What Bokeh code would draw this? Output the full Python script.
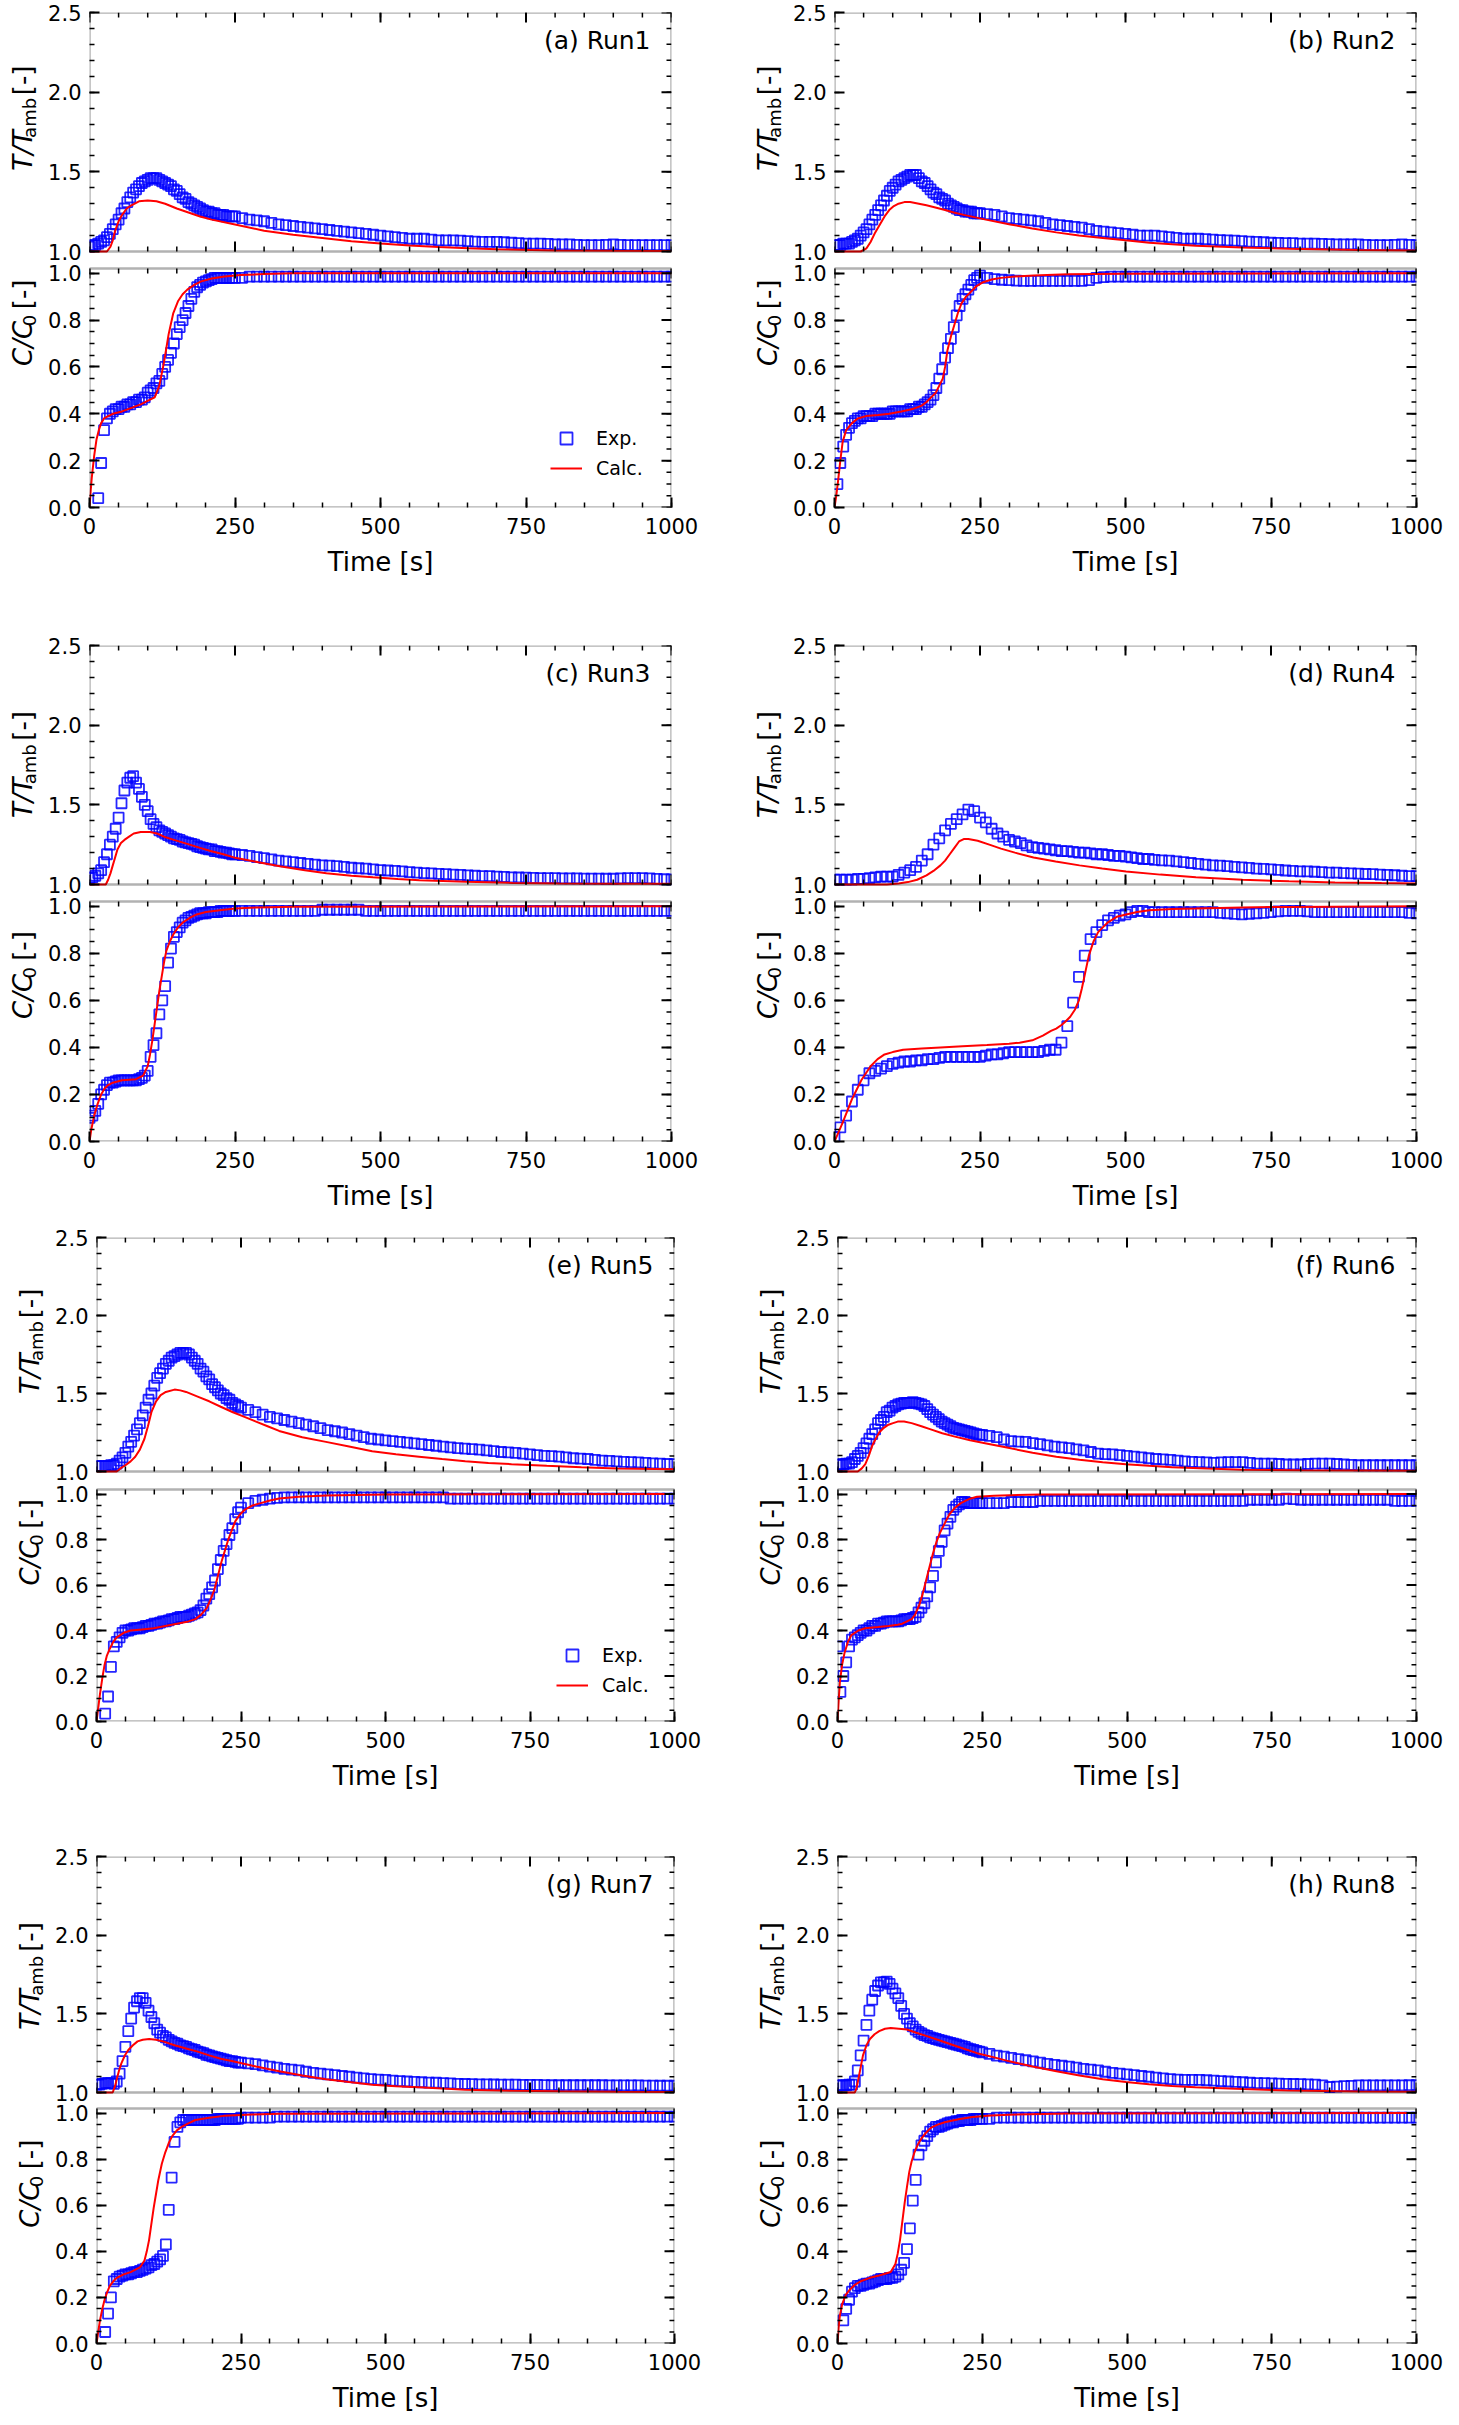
import numpy as np
from bokeh.plotting import figure
from bokeh.layouts import column, row
from bokeh.models import (Label, Legend, LegendItem, Range1d, FixedTicker,
                          BoxAnnotation)
from bokeh.embed import file_html
from bokeh.resources import INLINE

nan = float("nan")

# ---------------- data ----------------
# sampling times of the experimental series (s)
t_exp = list(range(0, 250, 5)) + [250 + 12.5 * i for i in range(61)]
t_exp_4 = list(range(0, 560, 10)) + [562.5 + 12.5 * i for i in range(36)]

# ---- Run 1 ----
T_exp_1 = [1.03,1.04,1.04,1.05,1.06,1.07,1.09,1.11,1.14,1.17,
           1.20,1.24,1.27,1.31,1.34,1.37,1.39,1.41,1.43,1.44,
           1.45,1.46,1.46,1.46,1.45,1.44,1.43,1.42,1.41,1.39,
           1.38,1.36,1.34,1.33,1.31,1.30,1.29,1.28,1.27,1.26,
           1.25,1.25,1.24,1.24,1.23,1.23,1.23,1.22,1.22,1.22,
           1.22,1.21,1.20,1.195,1.19,1.18,1.17,1.165,1.16,1.155,
           1.15,1.145,1.14,1.135,1.13,1.125,1.12,1.115,1.11,1.105,
           1.10,1.095,1.09,1.085,1.08,1.08,1.08,1.075,1.07,1.07,
           1.07,1.068,1.065,1.062,1.06,1.06,1.06,1.058,1.055,1.052,
           1.05,1.05,1.05,1.048,1.045,1.045,1.045,1.042,1.04,1.04,
           1.04,1.042,1.045,1.042,1.04,1.04,1.04,1.04,1.04,1.04,
           1.04]
C_exp_1 = [nan,nan,nan,0.04,0.19,0.33,0.38,0.40,0.41,0.42,
           0.42,0.43,0.43,0.44,0.44,0.45,0.45,0.46,0.46,0.47,
           0.49,0.50,0.51,0.53,0.54,0.57,0.60,0.63,0.66,0.70,
           0.74,0.77,0.80,0.83,0.86,0.89,0.92,0.94,0.95,0.96,
           0.965,0.97,0.975,0.98,0.98,0.98,0.98,0.98,0.98,0.98,
           0.98,0.98,0.985,0.985,0.985,0.985,0.985,0.985,0.985,0.985,
           0.985,0.985,0.985,0.985,0.985,0.985,0.985,0.985,0.985,0.985,
           0.985,0.985,0.985,0.985,0.985,0.985,0.985,0.985,0.985,0.985,
           0.985,0.985,0.985,0.985,0.985,0.985,0.985,0.985,0.985,0.985,
           0.985,0.985,0.985,0.985,0.985,0.985,0.985,0.985,0.985,0.985,
           0.985,0.985,0.985,0.985,0.985,0.985,0.985,0.985,0.985,0.985,
           0.985]
tT_calc_1 = [0,30,36,40,44,50,56,64,72,85,100,115,130,150,170,190,210,250,300,350,400,450,500,550,600,650,700,800,900,1000]
T_calc_1 = [1.0,1.0,1.03,1.07,1.13,1.19,1.23,1.27,1.29,1.315,1.32,1.315,1.30,1.27,1.245,1.22,1.20,1.17,1.13,1.105,1.085,1.065,1.05,1.038,1.028,1.02,1.014,1.007,1.004,1.003]
tC_calc_1 = [0,2,4,8,12,16,20,25,32,40,56,72,88,104,112,120,128,136,144,152,160,168,180,192,210,232,260,300,350,1000]
C_calc_1 = [0,0.07,0.13,0.22,0.29,0.33,0.36,0.38,0.39,0.40,0.41,0.425,0.44,0.46,0.47,0.52,0.62,0.74,0.83,0.88,0.91,0.93,0.95,0.965,0.977,0.986,0.992,0.996,1.0,1.0]

# ---- Run 2 ----
T_exp_2 = [1.04,1.04,1.04,1.05,1.05,1.05,1.06,1.07,1.08,1.10,
           1.12,1.14,1.17,1.20,1.23,1.26,1.29,1.32,1.35,1.38,
           1.40,1.42,1.44,1.45,1.46,1.47,1.48,1.48,1.48,1.46,
           1.44,1.43,1.41,1.39,1.37,1.36,1.34,1.33,1.32,1.30,
           1.29,1.28,1.27,1.26,1.26,1.25,1.25,1.25,1.24,1.24,
           1.24,1.235,1.23,1.22,1.21,1.205,1.20,1.195,1.19,1.18,
           1.17,1.165,1.16,1.155,1.15,1.14,1.13,1.125,1.12,1.115,
           1.11,1.105,1.10,1.10,1.10,1.095,1.09,1.085,1.08,1.08,
           1.08,1.078,1.075,1.072,1.07,1.068,1.065,1.062,1.06,1.058,
           1.055,1.054,1.053,1.052,1.05,1.05,1.05,1.048,1.046,1.045,
           1.045,1.045,1.045,1.042,1.04,1.04,1.04,1.042,1.045,1.042,
           1.04]
C_exp_2 = [nan,0.10,0.19,0.26,0.31,0.34,0.36,0.37,0.38,0.38,
           0.39,0.39,0.39,0.39,0.40,0.40,0.40,0.40,0.40,0.40,
           0.41,0.41,0.41,0.41,0.41,0.41,0.42,0.42,0.42,0.43,
           0.43,0.44,0.45,0.46,0.48,0.51,0.55,0.59,0.64,0.68,
           0.72,0.77,0.82,0.86,0.89,0.91,0.93,0.95,0.97,0.98,
           0.99,0.98,0.975,0.972,0.97,0.968,0.967,0.967,0.967,0.967,
           0.967,0.967,0.967,0.967,0.967,0.97,0.98,0.983,0.985,0.985,
           0.985,0.985,0.985,0.985,0.985,0.985,0.985,0.985,0.985,0.985,
           0.985,0.985,0.985,0.985,0.985,0.985,0.985,0.985,0.985,0.985,
           0.985,0.985,0.985,0.985,0.985,0.985,0.985,0.985,0.985,0.985,
           0.985,0.985,0.985,0.985,0.985,0.985,0.985,0.985,0.985,0.985,
           0.985]
tT_calc_2 = [0,45,55,62,70,78,86,94,102,110,120,130,145,158,175,190,205,222,260,302,340,381,420,461,500,541,580,621,700,781,900,1000]
T_calc_2 = [1.0,1.0,1.02,1.06,1.12,1.17,1.22,1.26,1.285,1.30,1.31,1.31,1.30,1.29,1.275,1.26,1.245,1.23,1.20,1.17,1.145,1.12,1.10,1.085,1.07,1.055,1.045,1.036,1.025,1.017,1.01,1.007]
tC_calc_2 = [0,3,6,10,14,20,30,40,54,75,94,115,134,150,158,166,174,180,186,190,194,200,206,212,218,226,234,244,254,270,286,310,342,400,500,1000]
C_calc_2 = [0,0.05,0.11,0.20,0.28,0.33,0.36,0.38,0.39,0.395,0.40,0.41,0.42,0.435,0.45,0.47,0.49,0.52,0.55,0.60,0.67,0.73,0.78,0.83,0.87,0.90,0.92,0.945,0.96,0.973,0.98,0.986,0.99,0.995,0.998,1.0]

# ---- Run 3 ----
T_exp_3 = [1.04,1.045,1.055,1.07,1.09,1.14,1.19,1.25,1.30,1.35,
           1.42,1.51,1.59,1.64,1.67,1.68,1.64,1.60,1.55,1.50,
           1.46,1.41,1.38,1.36,1.34,1.33,1.32,1.31,1.30,1.29,
           1.285,1.28,1.27,1.265,1.26,1.255,1.25,1.24,1.235,1.23,
           1.225,1.22,1.22,1.21,1.21,1.205,1.20,1.20,1.195,1.19,
           1.19,1.185,1.18,1.172,1.165,1.158,1.15,1.145,1.14,1.135,
           1.13,1.125,1.12,1.118,1.115,1.11,1.105,1.102,1.10,1.095,
           1.09,1.088,1.085,1.082,1.078,1.075,1.072,1.07,1.067,1.065,
           1.062,1.06,1.057,1.055,1.053,1.052,1.05,1.048,1.045,1.044,
           1.043,1.042,1.04,1.04,1.04,1.039,1.038,1.038,1.037,1.037,
           1.037,1.036,1.036,1.038,1.04,1.04,1.04,1.038,1.035,1.033,
           1.032]
C_exp_3 = [0.10,0.11,0.13,0.16,0.20,0.22,0.24,0.25,0.25,0.255,
           0.26,0.26,0.26,0.26,0.26,0.26,0.26,0.265,0.27,0.28,
           0.30,0.36,0.41,0.46,0.54,0.60,0.66,0.76,0.82,0.87,
           0.89,0.91,0.93,0.94,0.95,0.955,0.96,0.965,0.97,0.97,
           0.97,0.975,0.975,0.975,0.975,0.98,0.98,0.98,0.98,0.98,
           0.98,0.98,0.98,0.98,0.98,0.98,0.98,0.98,0.98,0.98,
           0.98,0.98,0.985,0.985,0.985,0.985,0.985,0.985,0.98,0.98,
           0.98,0.98,0.98,0.98,0.98,0.98,0.98,0.98,0.98,0.98,
           0.98,0.98,0.98,0.98,0.98,0.98,0.98,0.98,0.98,0.98,
           0.98,0.98,0.98,0.98,0.98,0.98,0.98,0.98,0.98,0.98,
           0.98,0.98,0.98,0.98,0.98,0.98,0.98,0.98,0.98,0.98,
           0.98]
tT_calc_3 = [0,28,32,36,40,44,48,54,60,68,76,88,104,116,128,145,168,190,208,230,248,290,327,370,407,450,487,530,567,647,727,807,900,1000]
T_calc_3 = [1.0,1.0,1.03,1.07,1.12,1.17,1.22,1.26,1.28,1.30,1.32,1.33,1.33,1.32,1.30,1.28,1.255,1.23,1.21,1.19,1.17,1.14,1.115,1.09,1.07,1.055,1.045,1.035,1.027,1.017,1.01,1.007,1.005,1.004]
tC_calc_3 = [0,3,8,14,20,26,32,40,56,80,92,100,104,108,112,116,120,124,128,132,138,144,152,160,172,184,200,224,250,288,350,1000]
C_calc_3 = [0,0.05,0.11,0.16,0.20,0.225,0.24,0.25,0.26,0.265,0.28,0.32,0.37,0.43,0.50,0.57,0.64,0.70,0.76,0.81,0.85,0.88,0.91,0.93,0.95,0.965,0.975,0.983,0.99,0.995,0.998,1.0]

# ---- Run 4 ----
T_exp_4 = [1.03,1.03,1.03,1.03,1.035,1.035,1.04,1.045,1.05,1.05,
           1.05,1.06,1.075,1.09,1.11,1.15,1.19,1.25,1.29,1.34,
           1.38,1.41,1.44,1.47,1.46,1.42,1.39,1.35,1.32,1.30,
           1.28,1.27,1.26,1.245,1.235,1.23,1.225,1.22,1.215,1.21,
           1.21,1.205,1.20,1.20,1.195,1.19,1.19,1.185,1.18,1.18,
           1.175,1.17,1.165,1.16,1.16,1.155,
           1.152,1.15,1.145,1.14,1.135,1.13,1.125,1.12,1.118,1.115,
           1.11,1.107,1.104,1.10,1.098,1.095,1.092,1.088,1.085,1.083,
           1.082,1.08,1.078,1.075,1.074,1.072,1.07,1.068,1.066,1.065,
           1.062,1.06,1.058,1.055,1.053,1.052]
C_exp_4 = [0.02,0.06,0.11,0.17,0.22,0.26,0.29,0.30,0.31,0.32,
           0.33,0.335,0.34,0.34,0.345,0.345,0.35,0.35,0.355,0.36,
           0.36,0.36,0.36,0.36,0.36,0.36,0.365,0.37,0.37,0.375,
           0.38,0.38,0.38,0.38,0.38,0.38,0.385,0.39,0.39,0.42,
           0.49,0.59,0.70,0.79,0.86,0.89,0.92,0.94,0.95,0.96,
           0.965,0.975,0.98,0.98,0.975,0.975,
           0.975,0.975,0.975,0.975,0.975,0.975,0.975,0.975,0.972,0.97,
           0.967,0.965,0.968,0.97,0.972,0.975,0.978,0.98,0.98,0.98,
           0.978,0.975,0.975,0.975,0.975,0.975,0.975,0.975,0.975,0.975,
           0.975,0.975,0.975,0.975,0.972,0.97]
tT_calc_4 = [0,90,110,126,142,158,170,182,190,198,206,214,222,230,246,266,286,310,342,380,421,460,501,560,621,701,781,860,940,1000]
T_calc_4 = [1.0,1.0,1.007,1.015,1.03,1.057,1.085,1.12,1.15,1.19,1.23,1.27,1.285,1.285,1.275,1.25,1.225,1.20,1.17,1.145,1.12,1.10,1.082,1.062,1.045,1.03,1.02,1.013,1.009,1.007]
tC_calc_4 = [0,7,14,22,30,38,46,54,62,74,86,100,118,150,182,220,262,300,318,340,358,372,381,390,397,405,413,420,425,431,437,445,453,461,469,485,501,520,541,580,621,700,781,1000]
C_calc_4 = [0,0.04,0.08,0.13,0.18,0.22,0.26,0.29,0.32,0.35,0.37,0.38,0.39,0.395,0.40,0.405,0.41,0.415,0.42,0.43,0.45,0.47,0.48,0.495,0.51,0.53,0.56,0.60,0.65,0.72,0.79,0.85,0.89,0.91,0.93,0.955,0.965,0.975,0.983,0.988,0.99,0.995,0.997,1.0]

# ---- Run 5 ----
T_exp_5 = [1.035,1.035,1.035,1.035,1.035,1.04,1.04,1.05,1.07,1.09,
           1.12,1.16,1.19,1.23,1.27,1.31,1.36,1.41,1.46,1.50,
           1.55,1.60,1.63,1.66,1.69,1.71,1.73,1.74,1.75,1.76,
           1.76,1.76,1.75,1.73,1.71,1.69,1.66,1.64,1.61,1.59,
           1.56,1.54,1.52,1.50,1.49,1.47,1.46,1.44,1.43,1.42,
           1.41,1.395,1.38,1.365,1.35,1.34,1.33,1.32,1.31,1.30,
           1.29,1.278,1.265,1.258,1.25,1.24,1.23,1.22,1.21,1.205,
           1.20,1.195,1.19,1.185,1.18,1.175,1.17,1.165,1.16,1.155,
           1.15,1.147,1.143,1.14,1.135,1.13,1.125,1.122,1.12,1.115,
           1.11,1.105,1.10,1.098,1.095,1.09,1.085,1.082,1.08,1.075,
           1.07,1.068,1.065,1.062,1.06,1.058,1.055,1.052,1.05,1.048,
           1.047]
C_exp_5 = [nan,nan,nan,0.035,0.11,0.24,0.33,0.35,0.37,0.39,
           0.40,0.40,0.405,0.41,0.41,0.41,0.415,0.42,0.42,0.425,
           0.43,0.43,0.435,0.44,0.44,0.445,0.45,0.45,0.455,0.46,
           0.46,0.46,0.465,0.47,0.475,0.48,0.49,0.51,0.54,0.56,
           0.59,0.62,0.67,0.71,0.75,0.78,0.82,0.85,0.89,0.92,
           0.94,0.96,0.97,0.975,0.98,0.983,0.985,0.985,0.985,0.985,
           0.985,0.985,0.985,0.985,0.985,0.985,0.985,0.985,0.985,0.985,
           0.985,0.985,0.985,0.985,0.985,0.985,0.985,0.985,0.985,0.98,
           0.98,0.98,0.98,0.98,0.98,0.98,0.98,0.98,0.98,0.98,
           0.98,0.98,0.98,0.98,0.98,0.98,0.98,0.98,0.98,0.98,
           0.98,0.98,0.98,0.98,0.98,0.98,0.98,0.98,0.98,0.98,
           0.98]
tT_calc_5 = [0,35,43,50,59,67,75,83,89,95,103,111,120,135,145,155,175,195,215,236,256,276,296,316,356,397,437,477,518,558,598,638,678,718,779,839,900,1000]
T_calc_5 = [1.0,1.0,1.024,1.04,1.065,1.095,1.14,1.21,1.29,1.38,1.45,1.49,1.51,1.525,1.52,1.51,1.48,1.45,1.415,1.38,1.35,1.32,1.29,1.26,1.22,1.19,1.16,1.13,1.11,1.095,1.08,1.066,1.055,1.047,1.037,1.028,1.02,1.014]
tC_calc_5 = [0,3,6,10,14,18,23,29,35,47,59,79,99,119,139,159,171,181,191,198,204,210,216,222,228,234,240,248,256,270,284,300,316,350,397,500,1000]
C_calc_5 = [0,0.06,0.12,0.19,0.25,0.29,0.32,0.35,0.37,0.39,0.40,0.405,0.41,0.42,0.43,0.44,0.45,0.47,0.50,0.54,0.58,0.64,0.70,0.75,0.80,0.84,0.88,0.91,0.93,0.95,0.96,0.972,0.98,0.988,0.994,0.998,1.0]

# ---- Run 6 ----
T_exp_6 = [1.045,1.045,1.045,1.05,1.05,1.06,1.08,1.10,1.12,1.15,
           1.18,1.21,1.24,1.27,1.31,1.33,1.35,1.38,1.39,1.41,
           1.42,1.43,1.435,1.44,1.44,1.44,1.445,1.44,1.435,1.43,
           1.42,1.40,1.38,1.365,1.35,1.335,1.32,1.31,1.30,1.29,
           1.28,1.275,1.27,1.265,1.26,1.255,1.25,1.245,1.24,1.235,
           1.235,1.228,1.22,1.205,1.195,1.192,1.19,1.182,1.175,1.168,
           1.16,1.155,1.15,1.142,1.135,1.125,1.115,1.112,1.11,1.105,
           1.10,1.095,1.09,1.085,1.08,1.078,1.075,1.07,1.065,1.062,
           1.06,1.058,1.055,1.058,1.06,1.06,1.06,1.055,1.05,1.05,
           1.05,1.048,1.045,1.045,1.045,1.048,1.05,1.05,1.05,1.048,
           1.045,1.042,1.04,1.04,1.04,1.04,1.04,1.04,1.04,1.04,
           1.04]
C_exp_6 = [0.33,0.13,0.20,0.26,0.33,0.36,0.37,0.38,0.39,0.40,
           0.40,0.41,0.42,0.42,0.43,0.43,0.435,0.44,0.44,0.44,
           0.44,0.44,0.445,0.45,0.45,0.45,0.455,0.46,0.48,0.50,
           0.52,0.55,0.59,0.64,0.70,0.75,0.79,0.84,0.87,0.90,
           0.93,0.945,0.955,0.965,0.965,0.96,0.96,0.96,0.96,0.96,
           0.96,0.96,0.96,0.96,0.965,0.965,0.965,0.965,0.97,0.97,
           0.97,0.97,0.97,0.97,0.97,0.97,0.97,0.97,0.97,0.97,
           0.97,0.97,0.97,0.97,0.97,0.97,0.97,0.97,0.97,0.97,
           0.97,0.97,0.97,0.97,0.97,0.97,0.97,0.975,0.975,0.975,
           0.975,0.975,0.98,0.978,0.975,0.975,0.975,0.975,0.975,0.975,
           0.975,0.975,0.975,0.975,0.975,0.975,0.975,0.97,0.97,0.97,
           0.97]
tT_calc_6 = [0,35,42,48,54,60,66,72,80,88,96,104,115,128,145,161,181,201,229,257,297,337,378,418,458,498,538,578,638,699,800,900,1000]
T_calc_6 = [1.0,1.0,1.02,1.047,1.10,1.165,1.21,1.25,1.28,1.30,1.31,1.32,1.32,1.31,1.29,1.27,1.245,1.225,1.20,1.18,1.15,1.12,1.095,1.076,1.06,1.047,1.037,1.028,1.019,1.012,1.008,1.006,1.005]
tC_calc_6 = [0,2,4,8,12,18,24,36,48,70,88,104,112,120,128,134,141,147,153,159,165,171,177,185,193,203,213,227,241,270,297,350,1000]
C_calc_6 = [0,0.09,0.17,0.25,0.30,0.35,0.38,0.40,0.41,0.415,0.42,0.425,0.43,0.44,0.45,0.47,0.51,0.56,0.62,0.68,0.74,0.79,0.83,0.87,0.91,0.94,0.96,0.978,0.988,0.993,0.995,0.998,1.0]

# ---- Run 7 ----
T_exp_7 = [1.05,1.05,1.055,1.06,1.06,1.06,1.055,1.07,1.12,1.20,
           1.29,1.39,1.47,1.54,1.58,1.60,1.60,1.57,1.52,1.48,
           1.44,1.40,1.38,1.36,1.35,1.335,1.325,1.315,1.31,1.30,
           1.295,1.29,1.28,1.275,1.27,1.26,1.255,1.25,1.24,1.236,
           1.23,1.225,1.22,1.215,1.21,1.205,1.20,1.20,1.195,1.19,
           1.19,1.185,1.18,1.172,1.165,1.158,1.15,1.145,1.14,1.132,
           1.125,1.12,1.115,1.11,1.105,1.10,1.095,1.09,1.085,1.082,
           1.08,1.076,1.072,1.07,1.068,1.065,1.063,1.062,1.06,1.058,
           1.055,1.054,1.053,1.052,1.052,1.051,1.05,1.05,1.05,1.049,
           1.048,1.048,1.047,1.046,1.046,1.046,1.046,1.046,1.046,1.046,
           1.046,1.045,1.045,1.045,1.045,1.045,1.044,1.044,1.043,1.043,
           1.043]
C_exp_7 = [nan,nan,nan,0.05,0.13,0.20,0.27,0.28,0.29,0.295,
           0.30,0.30,0.305,0.31,0.31,0.315,0.32,0.325,0.33,0.34,
           0.345,0.355,0.365,0.38,0.43,0.58,0.72,0.875,0.94,0.96,
           0.97,0.97,0.97,0.97,0.97,0.97,0.97,0.97,0.97,0.97,
           0.97,0.97,0.975,0.975,0.975,0.975,0.975,0.975,0.975,0.975,
           0.98,0.98,0.98,0.98,0.98,0.985,0.985,0.985,0.985,0.985,
           0.985,0.985,0.985,0.985,0.985,0.985,0.985,0.985,0.985,0.985,
           0.985,0.985,0.985,0.985,0.985,0.985,0.985,0.985,0.985,0.985,
           0.985,0.985,0.985,0.985,0.985,0.985,0.985,0.985,0.985,0.985,
           0.985,0.985,0.985,0.985,0.985,0.985,0.985,0.985,0.985,0.985,
           0.985,0.985,0.985,0.985,0.985,0.985,0.985,0.985,0.985,0.985,
           0.985]
tT_calc_7 = [0,28,32,35,39,43,49,55,63,71,80,91,103,115,135,155,175,195,215,236,276,316,356,397,437,477,518,558,598,638,718,799,900,1000]
T_calc_7 = [1.0,1.0,1.04,1.084,1.14,1.185,1.235,1.27,1.30,1.325,1.335,1.34,1.335,1.325,1.30,1.28,1.26,1.236,1.215,1.198,1.165,1.135,1.108,1.084,1.066,1.05,1.04,1.033,1.025,1.018,1.011,1.008,1.005,1.003]
tC_calc_7 = [0,3,6,10,14,18,23,29,35,47,59,75,83,87,91,95,99,103,107,113,119,125,131,139,147,159,171,195,220,270,316,1000]
C_calc_7 = [0,0.05,0.10,0.15,0.19,0.22,0.25,0.27,0.285,0.30,0.31,0.33,0.36,0.40,0.45,0.52,0.59,0.65,0.71,0.78,0.83,0.87,0.90,0.925,0.94,0.955,0.97,0.98,0.988,0.994,0.997,1.0]

# ---- Run 8 ----
T_exp_8 = [1.045,1.045,1.045,1.045,1.05,1.05,1.07,1.14,1.236,1.33,
           1.43,1.52,1.59,1.645,1.68,1.70,1.70,1.705,1.69,1.66,
           1.63,1.60,1.55,1.50,1.47,1.44,1.42,1.40,1.385,1.375,
           1.365,1.36,1.35,1.345,1.34,1.335,1.33,1.325,1.32,1.315,
           1.31,1.305,1.30,1.295,1.29,1.28,1.275,1.27,1.265,1.26,
           1.255,1.245,1.235,1.228,1.22,1.212,1.205,1.198,1.19,1.182,
           1.175,1.17,1.165,1.158,1.15,1.145,1.14,1.132,1.125,1.12,
           1.115,1.11,1.105,1.10,1.095,1.09,1.085,1.082,1.08,1.08,
           1.08,1.078,1.075,1.072,1.07,1.068,1.065,1.062,1.06,1.059,
           1.058,1.056,1.055,1.054,1.053,1.052,1.05,1.045,1.035,1.037,
           1.04,1.042,1.045,1.045,1.045,1.045,1.045,1.045,1.045,1.046,
           1.046]
C_exp_8 = [nan,nan,0.10,0.15,0.19,0.225,0.24,0.25,0.25,0.255,
           0.26,0.26,0.265,0.27,0.275,0.28,0.28,0.28,0.285,0.285,
           0.29,0.30,0.32,0.35,0.41,0.50,0.62,0.71,0.82,0.86,
           0.88,0.90,0.92,0.93,0.94,0.94,0.945,0.95,0.955,0.96,
           0.96,0.965,0.965,0.97,0.97,0.97,0.97,0.975,0.975,0.975,
           0.975,0.975,0.98,0.98,0.98,0.98,0.98,0.98,0.98,0.98,
           0.98,0.98,0.98,0.98,0.98,0.98,0.98,0.98,0.98,0.98,
           0.98,0.98,0.98,0.98,0.98,0.98,0.98,0.98,0.98,0.98,
           0.98,0.98,0.98,0.98,0.98,0.98,0.98,0.98,0.98,0.98,
           0.98,0.98,0.98,0.98,0.98,0.98,0.98,0.98,0.98,0.98,
           0.98,0.98,0.98,0.98,0.98,0.98,0.98,0.98,0.98,0.98,
           0.98]
tT_calc_8 = [0,30,33,36,40,44,50,56,64,72,82,92,106,120,136,153,173,193,217,241,269,297,337,378,418,458,498,538,578,618,700,779,900,1000]
T_calc_8 = [1.0,1.0,1.03,1.084,1.16,1.236,1.30,1.34,1.37,1.39,1.405,1.41,1.405,1.40,1.38,1.36,1.335,1.31,1.28,1.25,1.225,1.198,1.165,1.135,1.108,1.084,1.067,1.053,1.042,1.033,1.022,1.013,1.007,1.005]
tC_calc_8 = [0,2,4,8,14,20,30,40,56,72,92,100,104,108,112,116,120,124,128,133,139,145,153,161,173,185,209,233,265,297,400,1000]
C_calc_8 = [0,0.07,0.12,0.17,0.21,0.23,0.255,0.27,0.285,0.295,0.31,0.345,0.39,0.45,0.53,0.61,0.68,0.745,0.79,0.83,0.865,0.89,0.915,0.936,0.95,0.96,0.973,0.983,0.99,0.993,0.998,1.0]

panel_titles = ["(a) Run1", "(b) Run2", "(c) Run3", "(d) Run4",
                "(e) Run5", "(f) Run6", "(g) Run7", "(h) Run8"]
x_ticks = [0, 250, 500, 750, 1000]
x_minor = list(range(0, 1001, 50))
T_ticks = [1.0, 1.5, 2.0, 2.5]
T_minor = [round(1.0 + 0.1 * i, 2) for i in range(16)]
C_ticks = [0.0, 0.2, 0.4, 0.6, 0.8, 1.0]
C_minor = [round(0.05 * i, 2) for i in range(21)]

runs = [
    (t_exp, T_exp_1, C_exp_1, tT_calc_1, T_calc_1, tC_calc_1, C_calc_1),
    (t_exp, T_exp_2, C_exp_2, tT_calc_2, T_calc_2, tC_calc_2, C_calc_2),
    (t_exp, T_exp_3, C_exp_3, tT_calc_3, T_calc_3, tC_calc_3, C_calc_3),
    (t_exp_4, T_exp_4, C_exp_4, tT_calc_4, T_calc_4, tC_calc_4, C_calc_4),
    (t_exp, T_exp_5, C_exp_5, tT_calc_5, T_calc_5, tC_calc_5, C_calc_5),
    (t_exp, T_exp_6, C_exp_6, tT_calc_6, T_calc_6, tC_calc_6, C_calc_6),
    (t_exp, T_exp_7, C_exp_7, tT_calc_7, T_calc_7, tC_calc_7, C_calc_7),
    (t_exp, T_exp_8, C_exp_8, tT_calc_8, T_calc_8, tC_calc_8, C_calc_8),
]

# ---------------- layout ----------------
FONT = "DejaVu Sans"
TICK_FS = "21px"
CY = 1.02          # top of the C/C0 axis
TICK_BORDER = 44   # room for the y tick labels
# (band top, T frame top, T frame bottom, C frame top, C frame bottom, band bottom)
ROWS = [
    (0, 12, 251, 268, 507, 620),
    (620, 645, 884, 901, 1141, 1225),
    (1225, 1237, 1471, 1489, 1721, 1830),
    (1830, 1856, 2092, 2108, 2343, 2420),
]
COLS = [
    (0, 730, [(89, 671), (89, 671), (96, 674), (96, 674)]),
    (730, 728, [(834, 1416), (834, 1416), (837, 1416), (837, 1416)]),
]
LEGEND_POS = {0: (461, 24), 4: (460, 21)}

# (text, font px, style, centre offset along the title, baseline shift)
T_PIECES = [("T/T", 26, "italic", 20.25, 0), ("amb", 18, "normal", 61.0, 4), ("[-]", 26, "normal", 108.0, 0)]
T_TOTAL = 123.0
C_PIECES = [("C/C", 26, "italic", 22.55, 0), ("0", 18, "normal", 51.3, 4), ("[-]", 26, "normal", 84.0, 0)]
C_TOTAL = 99.0

MARKER = dict(marker="square", size=10, fill_color=None,
              line_color="blue", line_width=1.8, line_alpha=0.85)


def style_axis(ax):
    ax.axis_line_color = None
    ax.major_tick_in = 10
    ax.major_tick_out = 0
    ax.minor_tick_in = 5
    ax.minor_tick_out = 0
    ax.major_tick_line_color = "black"
    ax.minor_tick_line_color = "black"
    ax.major_tick_line_width = 2
    ax.minor_tick_line_width = 1.5
    ax.major_label_text_font = FONT
    ax.major_label_text_font_size = TICK_FS
    ax.major_label_text_color = "black"


def build_panel(k, r, c):
    y0, tt, tb, ct, cb, y1 = ROWS[r]
    cx0, cw, frames = COLS[c]
    fx0, fx1 = frames[r]
    fw = fx1 - fx0
    Ht, Hc, Htot, H = tb - tt, cb - ct, cb - tt, y1 - y0
    lbl_w = fx0 - cx0 - TICK_BORDER
    c_end = CY * Htot / Hc
    t_start = 2.5 - 1.5 * Htot / Ht

    def t2c(v):
        return (Htot - (2.5 - v) * Ht / 1.5) * c_end / Htot

    te, Te, Ce, tTc, Tc, tCc, Cc = runs[k]

    p = figure(width=cw - lbl_w, height=H,
               x_range=Range1d(0, 1000), y_range=Range1d(0, c_end),
               output_backend="svg", toolbar_location=None,
               min_border_left=TICK_BORDER, min_border_right=cx0 + cw - fx1,
               min_border_top=tt - y0, min_border_bottom=y1 - cb,
               background_fill_color="white", border_fill_color="white",
               outline_line_color=None)
    p.extra_y_ranges = {"T": Range1d(t_start, 2.5)}
    p.grid.visible = False

    ya = p.yaxis[0]
    xa = p.xaxis[0]
    style_axis(ya)
    style_axis(xa)
    ya.ticker = FixedTicker(ticks=C_ticks + [t2c(v) for v in T_ticks],
                            minor_ticks=C_minor + [t2c(v) for v in T_minor])
    overrides = {v: f"{v:.1f}" for v in C_ticks}
    overrides.update({t2c(v): f"{v:.1f}" for v in T_ticks})
    ya.major_label_overrides = overrides
    ya.major_label_standoff = 8
    xa.ticker = FixedTicker(ticks=x_ticks, minor_ticks=x_minor)
    xa.major_label_standoff = 10
    xa.axis_label = "Time [s]"
    xa.axis_label_text_font = FONT
    xa.axis_label_text_font_size = "26px"
    xa.axis_label_text_font_style = "normal"
    xa.axis_label_text_color = "black"
    xa.axis_label_standoff = 10

    # data
    p.scatter(te, Te, y_range_name="T", **MARKER)
    p.line(tTc, Tc, line_color="red", line_width=2, y_range_name="T")
    sc = p.scatter(te, Ce, **MARKER)
    ln = p.line(tCc, Cc, line_color="red", line_width=2)

    # frames of the two panels
    p.add_layout(BoxAnnotation(left=0, right=1000, bottom=1.0, top=2.5, y_range_name="T",
                               fill_color=None, line_color="black", line_width=2.5))
    p.add_layout(BoxAnnotation(left=0, right=1000, bottom=0.0, top=CY,
                               fill_color=None, line_color="black", line_width=2.5))

    # inward ticks on the remaining edges
    for vals, L, lw in ((x_ticks, 10, 2), (x_minor, 5, 1.5)):
        n = len(vals)
        dT = L * 1.5 / Ht
        dC = L * c_end / Htot
        p.segment(x0=vals, y0=[2.5] * n, x1=vals, y1=[2.5 - dT] * n,
                  y_range_name="T", line_color="black", line_width=lw)
        p.segment(x0=vals, y0=[1.0] * n, x1=vals, y1=[1.0 + dT] * n,
                  y_range_name="T", line_color="black", line_width=lw)
        p.segment(x0=vals, y0=[CY] * n, x1=vals, y1=[CY - dC] * n,
                  line_color="black", line_width=lw)
    for vals, L, lw in ((T_ticks, 10, 2), (T_minor, 5, 1.5)):
        n = len(vals)
        dx = L * 1000.0 / fw
        p.segment(x0=[1000] * n, y0=vals, x1=[1000 - dx] * n, y1=vals,
                  y_range_name="T", line_color="black", line_width=lw)
    for vals, L, lw in ((C_ticks, 10, 2), (C_minor, 5, 1.5)):
        n = len(vals)
        dx = L * 1000.0 / fw
        p.segment(x0=[1000] * n, y0=vals, x1=[1000 - dx] * n, y1=vals,
                  line_color="black", line_width=lw)

    # panel title
    p.add_layout(Label(x=1000.0 * (1 - 21.0 / fw), y=2.5 - 1.5 * 28.0 / Ht,
                       y_range_name="T", text=panel_titles[k], text_font=FONT,
                       text_font_size="25px", text_align="right",
                       text_baseline="alphabetic", text_color="black"))

    if k in LEGEND_POS:
        leg = Legend(items=[LegendItem(label="Exp.", renderers=[sc]),
                            LegendItem(label="Calc.", renderers=[ln])],
                     location=LEGEND_POS[k], border_line_color=None,
                     background_fill_alpha=0.0, label_text_font=FONT,
                     label_text_font_size="19px", label_text_color="black",
                     glyph_width=32, glyph_height=30, label_height=30,
                     spacing=0, padding=10, label_standoff=14, margin=0)
        p.add_layout(leg)

    # y-axis titles live in a narrow figure to the left of the panel
    lf = figure(width=lbl_w, height=H, x_range=Range1d(0, lbl_w), y_range=Range1d(0, H),
                x_axis_type=None, y_axis_type=None, min_border=0,
                output_backend="svg", toolbar_location=None,
                background_fill_color="white", border_fill_color="white",
                outline_line_color=None)
    bx = fx0 - 58 - cx0      # baseline of the upright glyphs
    for pieces, total, top, bot in ((T_PIECES, T_TOTAL, tt, tb), (C_PIECES, C_TOTAL, ct, cb)):
        ymid = y1 - (top + bot) / 2.0
        start = ymid - total / 2.0
        for text, size, fstyle, off, shift in pieces:
            lf.add_layout(Label(x=bx + shift - 0.346 * size, y=start + off, text=text,
                                angle=np.pi / 2, text_font=FONT,
                                text_font_size=f"{size}px", text_font_style=fstyle,
                                text_align="center", text_baseline="middle",
                                text_color="black"))
    return row(lf, p)


bands = []
for r in range(4):
    bands.append(row(build_panel(2 * r, r, 0), build_panel(2 * r + 1, r, 1)))

layout = column(*bands)
open("out.html", "w").write(file_html(layout, INLINE))
